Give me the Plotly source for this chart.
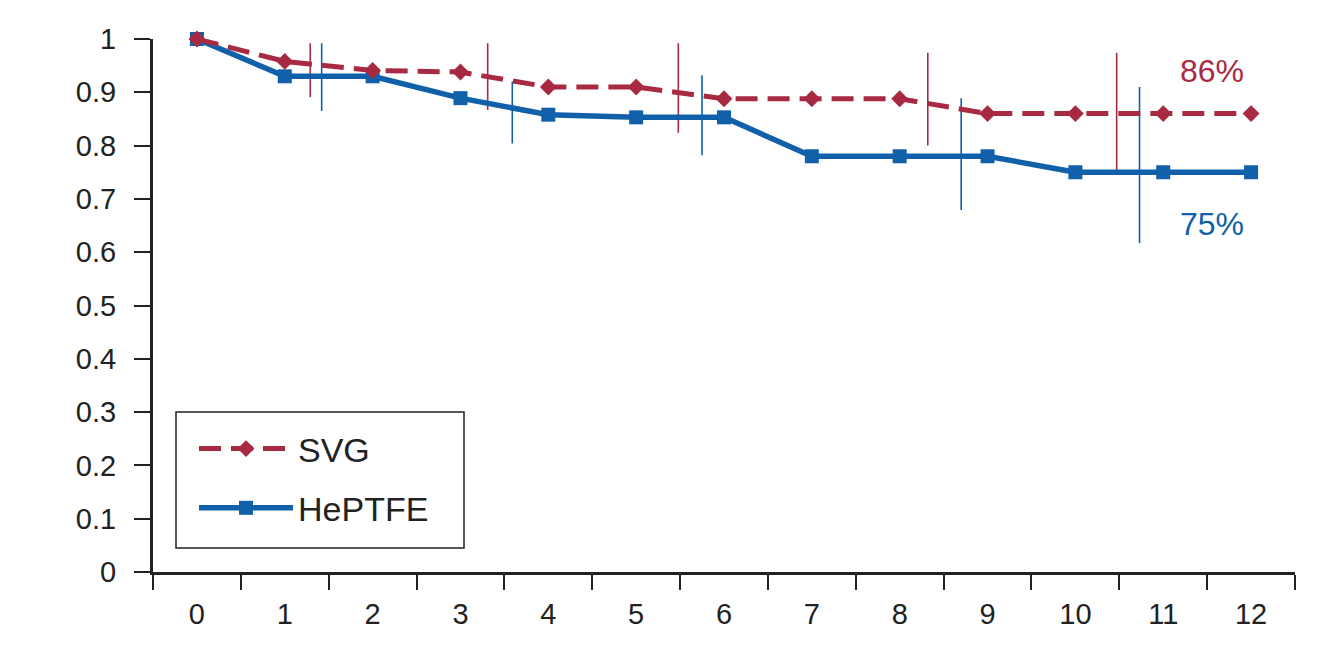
import plotly.graph_objects as go

months = list(range(13))
month_labels = [str(m) for m in months]
svg_values = [1.0, 0.958, 0.941, 0.938, 0.91, 0.91, 0.888, 0.888, 0.888, 0.86, 0.86, 0.86, 0.86]
heptfe_values = [1.0, 0.93, 0.93, 0.889, 0.858, 0.853, 0.853, 0.78, 0.78, 0.78, 0.75, 0.75, 0.75]

# confidence bars (vertical segments)
svg_bar_x = [1.29, 3.31, 5.48, 8.32, 10.47]
svg_bar_low = [0.891, 0.867, 0.824, 0.80, 0.754]
svg_bar_high = [0.992, 0.992, 0.992, 0.974, 0.974]
hep_bar_x = [1.42, 3.59, 5.75, 8.70, 10.73]
hep_bar_low = [0.865, 0.804, 0.782, 0.679, 0.617]
hep_bar_high = [0.992, 0.92, 0.932, 0.889, 0.91]

svg_final_label = "86%"
hep_final_label = "75%"

RED = "#a82a42"
BLUE = "#1060aa"
FONT = "Liberation Sans, Arial, sans-serif"

# page body has an 8px margin; compensate so plot lands at the reference pixels
W, H = 1326, 639
L, R, T, B = 145, 39, 31, 75
PW = W - L - R
PH = H - T - B


def px_x(p):
    return (p - 8 - L) / PW


def px_y(p):
    return (H - B - (p - 8)) / PH


def segs(xs, lo, hi):
    X, Y = [], []
    for x, a, b in zip(xs, lo, hi):
        X += [x, x, None]
        Y += [a, b, None]
    return X, Y


fig = go.Figure()
sx, sy = segs(svg_bar_x, svg_bar_low, svg_bar_high)
fig.add_trace(go.Scatter(x=sx, y=sy, mode="lines", line=dict(color=RED, width=1.6),
                         showlegend=False, hoverinfo="skip", cliponaxis=False))
hx, hy = segs(hep_bar_x, hep_bar_low, hep_bar_high)
fig.add_trace(go.Scatter(x=hx, y=hy, mode="lines", line=dict(color=BLUE, width=1.6),
                         showlegend=False, hoverinfo="skip", cliponaxis=False))

fig.add_trace(go.Scatter(x=months, y=heptfe_values, mode="lines+markers", name="HePTFE",
                         line=dict(color=BLUE, width=5.5),
                         marker=dict(symbol="square", size=14, color=BLUE),
                         cliponaxis=False, legendrank=2, legendgroup="b"))
fig.add_trace(go.Scatter(x=months, y=svg_values, mode="lines+markers", name="SVG",
                         line=dict(color=RED, width=5, dash="22px,10px"),
                         marker=dict(symbol="diamond", size=13, color=RED),
                         cliponaxis=False, legendrank=1, legendgroup="a"))

fig.add_annotation(x=px_x(1212), y=px_y(71), xref="paper", yref="paper", text=svg_final_label,
                   showarrow=False, font=dict(color=RED, size=32, family=FONT),
                   xanchor="center", yanchor="middle")
fig.add_annotation(x=px_x(1212), y=px_y(224), xref="paper", yref="paper", text=hep_final_label,
                   showarrow=False, font=dict(color=BLUE, size=32, family=FONT),
                   xanchor="center", yanchor="middle")

# legend frame
fig.add_shape(type="rect", xref="paper", yref="paper",
              x0=px_x(176), x1=px_x(464), y0=px_y(548), y1=px_y(412),
              line=dict(color="#222", width=1.5), fillcolor="rgba(0,0,0,0)", layer="below")

fig.update_layout(
    width=W, height=H,
    margin=dict(l=L, r=R, t=T, b=B),
    paper_bgcolor="white", plot_bgcolor="white",
    font=dict(family=FONT, size=29, color="#222"),
    showlegend=True,
    legend=dict(x=px_x(194), y=px_y(420), xanchor="left", yanchor="top",
                bgcolor="rgba(0,0,0,0)", borderwidth=0, font=dict(size=34, family=FONT, color="#222"),
                traceorder="grouped", tracegroupgap=12, itemwidth=94),
    xaxis=dict(range=[-0.5, 12.5], tickmode="array", tickvals=months, ticktext=month_labels,
               ticks="", showgrid=False, zeroline=False, showline=True, linecolor="#222", linewidth=3,
               tickfont=dict(size=29, color="#222"), ticklabelstandoff=14,
               minor=dict(tickmode="array", tickvals=[m - 0.5 for m in months] + [12.5],
                          ticks="outside", ticklen=15, tickwidth=2, tickcolor="#222", showgrid=False)),
    yaxis=dict(range=[0, 1], tickmode="array", tickvals=[i / 10 for i in range(11)],
               ticktext=["0"] + ["0." + str(i) for i in range(1, 10)] + ["1"],
               ticks="outside", ticklen=16, tickwidth=2, tickcolor="#222",
               showgrid=False, zeroline=False, showline=True, linecolor="#222", linewidth=3,
               tickfont=dict(size=29, color="#222"), ticklabelstandoff=12),
)

fig.write_html("out.html")
